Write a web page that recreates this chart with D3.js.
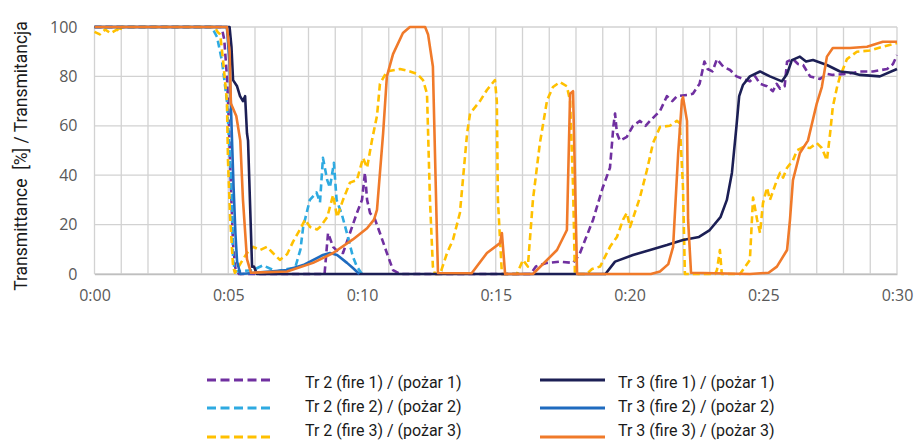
<!DOCTYPE html>
<html>
<head>
<meta charset="utf-8">
<script src="https://cdn.jsdelivr.net/npm/d3@7"></script>
<style>
  body { margin: 0; background: #fff; }
  svg { display: block; }
</style>
</head>
<body>
<div id="chart"></div>
<script>
// time in minutes, transmittance in %
const tr2Fire1 = [[0,100],[4.75,100],[4.85,95],[4.95,80],[5.03,60],[5.1,35],[5.18,12],[5.27,2],[5.4,0],[8.6,0],[8.73,16.6],[8.92,11],[9.1,9],[9.29,8.5],[9.55,16.6],[9.81,24.7],[10.0,30],[10.11,41],[10.19,30],[10.3,24.7],[10.49,22],[10.67,16.6],[10.93,8.5],[11.16,1.6],[11.42,0],[16.3,0],[16.5,3],[16.92,4.5],[17.4,5],[17.89,4.5],[18.07,7],[18.15,8.5],[18.64,22],[19.0,35],[19.27,43],[19.4,60],[19.46,65],[19.53,57],[19.64,54],[19.9,55.5],[20.13,60],[20.39,62],[20.6,60],[20.77,62],[21.14,66],[21.4,72],[21.6,70],[21.77,72],[22.15,72.5],[22.37,73],[22.62,77],[22.8,86],[22.92,83],[23.1,82],[23.27,87],[23.5,84],[23.76,82.6],[24.0,80],[24.24,79],[24.5,78],[24.7,80],[24.88,77],[25.14,76],[25.36,74],[25.5,77],[25.63,75],[25.8,76],[25.89,86],[26.11,87],[26.3,85],[26.49,84.6],[26.75,80],[27.12,79],[27.4,81],[27.6,80.6],[28.13,81],[28.62,82],[29.1,82],[29.63,83],[29.85,85],[30,88.6]];

const tr2Fire2 = [[0,100],[4.35,100],[4.43,99],[4.58,96],[4.77,86],[4.95,70],[5.05,50],[5.14,30],[5.18,6],[5.25,1],[5.9,1.5],[6.3,3.5],[6.8,1],[7.2,2],[7.5,2.5],[7.7,10],[7.8,19],[8.05,30],[8.3,33],[8.43,29],[8.54,47],[8.7,38],[8.8,35],[8.95,45],[9.05,30],[9.25,24],[9.45,16],[9.66,7],[9.81,3],[10.0,0]];

const tr2Fire3 = [[0,98],[0.2,97],[0.4,99],[0.6,97.5],[0.85,99],[0.95,98],[1.0,100],[4.5,100],[4.6,98],[4.7,97],[4.81,86],[4.95,70],[4.99,46],[5.07,23],[5.18,3],[5.25,0.5],[5.5,5],[5.7,8.5],[5.93,11],[6.19,9.7],[6.45,11],[6.67,8.5],[6.93,5.7],[7.2,8],[7.42,13],[7.68,18],[7.87,22],[8.06,19],[8.32,18],[8.43,19],[8.7,23],[8.92,32],[9.07,23],[9.29,30],[9.55,37],[9.81,38],[10.04,47],[10.19,43],[10.37,54],[10.56,64],[10.67,77],[10.93,82],[11.42,83],[11.79,82],[12.06,81],[12.28,78.5],[12.43,73],[12.54,30],[12.65,3],[12.73,0],[12.92,0],[13.18,8.5],[13.4,13.8],[13.66,24.7],[13.93,57],[14.04,65],[14.41,70],[14.67,74.5],[14.97,78.5],[15.04,70],[15.08,30],[15.23,0],[15.79,0],[16.02,5.7],[16.2,3],[16.39,30],[16.65,53],[16.92,70.4],[17.14,75.7],[17.4,77.7],[17.66,76],[17.78,70],[17.89,35],[17.96,0],[18.4,0],[18.6,2],[18.9,3],[19.27,11],[19.53,15],[19.76,22],[19.9,24.7],[20.02,19],[20.39,31],[20.65,42],[20.88,53],[21.14,59.5],[21.51,60],[21.77,62],[21.88,61],[22.0,35],[22.07,0],[23.2,0],[23.27,1.6],[23.38,9.7],[23.45,0],[24.13,0],[24.5,5.7],[24.62,31],[24.77,22],[24.88,16.6],[24.99,28.7],[25.14,35],[25.25,30],[25.51,38],[25.63,41],[25.74,39],[25.89,43],[26.11,46],[26.26,50],[26.49,51.4],[26.75,51],[27.0,53],[27.19,51],[27.38,46],[27.5,57],[27.6,67.6],[27.76,75.7],[27.87,80],[28.13,87],[28.5,90],[28.99,90.5],[29.47,92],[30,93.5]];

const tr3Fire1 = [[0,100],[5.05,100],[5.12,92],[5.18,78.5],[5.33,76],[5.44,72],[5.55,70],[5.63,72],[5.7,57],[5.74,54],[5.81,30],[5.89,3],[5.96,3],[6.07,0],[19.1,0],[19.46,5],[20.13,7.7],[20.77,9.7],[21.4,11.7],[22.0,13.8],[22.6,15],[23.0,17.8],[23.4,23],[23.64,30],[23.83,41],[24.0,60],[24.1,72],[24.24,76.5],[24.5,80],[24.88,82],[25.25,80],[25.7,78],[25.89,81],[26.07,86.6],[26.37,88],[26.6,86],[26.86,86.6],[27.38,84.6],[27.87,82],[28.3,81.5],[28.62,80.6],[29.36,80],[30,83]];

const tr3Fire2 = [[0,100],[4.95,100],[5.05,85],[5.15,51],[5.2,35],[5.27,16],[5.33,5],[5.45,0],[6.56,1],[7.2,1.6],[7.8,3.6],[8.54,7.7],[8.8,8.5],[9.07,7.7],[9.44,4.5],[9.66,2.4],[9.9,0]];

const tr3Fire3 = [[0,100],[4.95,100],[5.05,90],[5.1,69],[5.3,64],[5.45,54],[5.55,30],[5.7,6],[5.85,0.5],[7.2,1],[8.17,4.5],[8.92,8.5],[9.66,14],[10.19,18.5],[10.45,22],[10.56,26],[10.79,57],[10.93,80],[11.16,89],[11.53,97.6],[11.79,100],[12.36,100],[12.47,97],[12.65,84],[12.8,16.6],[12.84,0.4],[14.1,0.3],[14.67,8.5],[15.16,12.5],[15.23,16.6],[15.35,0],[16.39,0],[17.29,9.7],[17.66,17.8],[17.78,73],[17.89,74],[18.04,0],[20.8,0],[21.14,1],[21.45,4],[21.63,11],[21.82,49],[21.96,70.4],[22.0,71.6],[22.15,62],[22.19,22],[22.3,0.5],[24.5,0],[25.2,0.5],[25.51,3],[25.89,9.7],[26.0,22],[26.11,38],[26.37,49],[26.67,54],[27.0,69],[27.19,75.7],[27.38,88],[27.6,91.5],[28.24,91.5],[28.88,92],[29.47,94],[30,94]];

const xTicks = [0, 5, 10, 15, 20, 25, 30];
const yTicks = [0, 20, 40, 60, 80, 100];
const legendNames = ['Tr 2 (fire 1) / (pożar 1)', 'Tr 2 (fire 2) / (pożar 2)', 'Tr 2 (fire 3) / (pożar 3)',
                     'Tr 3 (fire 1) / (pożar 1)', 'Tr 3 (fire 2) / (pożar 2)', 'Tr 3 (fire 3) / (pożar 3)'];

const series = [
  {name: legendNames[0], data: tr2Fire1, color: '#7030a0', dashed: true},
  {name: legendNames[1], data: tr2Fire2, color: '#2eaae1', dashed: true},
  {name: legendNames[2], data: tr2Fire3, color: '#ffc000', dashed: true},
  {name: legendNames[3], data: tr3Fire1, color: '#1c1f55', dashed: false},
  {name: legendNames[4], data: tr3Fire2, color: '#1f6bbf', dashed: false},
  {name: legendNames[5], data: tr3Fire3, color: '#f07a2a', dashed: false}
];

const W = 918, H = 442;
const margin = {t: 27, r: 21, b: 168, l: 94.5};
const width = W - margin.l - margin.r;
const height = H - margin.t - margin.b;

const svg = d3.select('#chart').append('svg').attr('width', W).attr('height', H);

const x = d3.scaleLinear().domain([0, 30]).range([0, width]);
const y = d3.scaleLinear().domain([0, 100]).range([height, 0]);

const g = svg.append('g').attr('transform', `translate(${margin.l},${margin.t})`);

//grid
g.append('g').selectAll('line').data(d3.range(0, 31)).join('line')
  .attr('x1', d => x(d)).attr('x2', d => x(d))
  .attr('y1', 0).attr('y2', height)
  .attr('stroke', '#d2d2d2').attr('stroke-width', 1.3);
g.append('g').selectAll('line').data(yTicks).join('line')
  .attr('x1', 0).attr('x2', width)
  .attr('y1', d => y(d)).attr('y2', d => y(d))
  .attr('stroke', '#d2d2d2').attr('stroke-width', 1.3);

//axes
const xAxis = g.append('g').attr('transform', `translate(0,${height})`)
  .call(d3.axisBottom(x).tickValues(xTicks).tickSize(0).tickPadding(16)
    .tickFormat(d => `0:${String(d).padStart(2, '0')}`));
const yAxis = g.append('g')
  .call(d3.axisLeft(y).tickValues(yTicks).tickSize(0).tickPadding(17));
[xAxis, yAxis].forEach(a => {
  a.select('.domain').attr('stroke', '#bfbfbf').attr('stroke-width', 1.3);
  a.selectAll('text').attr('fill', '#595959')
    .style('font-family', '"Open Sans", sans-serif').style('font-size', '16px');
});
yAxis.select('.domain').remove();

svg.append('text')
  .attr('transform', `translate(27,156) rotate(-90)`)
  .attr('text-anchor', 'middle')
  .style('font-family', 'Roboto, sans-serif').style('font-size', '17.5px')
  .style('white-space', 'pre')
  .attr('fill', '#1a1a1a')
  .text('Transmittance  [%] / Transmitancja');

//lines
svg.append('clipPath').attr('id', 'clip').append('rect')
  .attr('x', -2).attr('y', -3).attr('width', width + 4).attr('height', height + 5);

const line = d3.line().x(d => x(d[0])).y(d => y(d[1]));

g.append('g').attr('clip-path', 'url(#clip)')
  .selectAll('path').data(series).join('path')
  .attr('d', d => line(d.data))
  .attr('fill', 'none')
  .attr('stroke', d => d.color)
  .attr('stroke-width', 2.6)
  .attr('stroke-linejoin', 'round')
  .attr('stroke-dasharray', d => d.dashed ? '7 4' : null);

//legend
const legendPos = [
  {lx: 207, tx: 305, y: 380}, {lx: 207, tx: 305, y: 408}, {lx: 207, tx: 305, y: 437},
  {lx: 540, tx: 618, y: 380}, {lx: 540, tx: 618, y: 408}, {lx: 540, tx: 618, y: 437}
];
const textY = [388, 412, 436];

const leg = svg.append('g').selectAll('g').data(series).join('g');
leg.append('line')
  .attr('x1', (d, i) => legendPos[i].lx).attr('x2', (d, i) => legendPos[i].lx + 65)
  .attr('y1', (d, i) => legendPos[i].y).attr('y2', (d, i) => legendPos[i].y)
  .attr('stroke', d => d.color).attr('stroke-width', 3.2)
  .attr('stroke-dasharray', d => d.dashed ? '9 4.5' : null);
leg.append('text')
  .attr('x', (d, i) => legendPos[i].tx).attr('y', (d, i) => textY[i % 3])
  .style('font-family', 'Roboto, sans-serif').style('font-size', '16px')
  .attr('fill', '#1a1a1a')
  .text(d => d.name);
</script>
</body>
</html>
